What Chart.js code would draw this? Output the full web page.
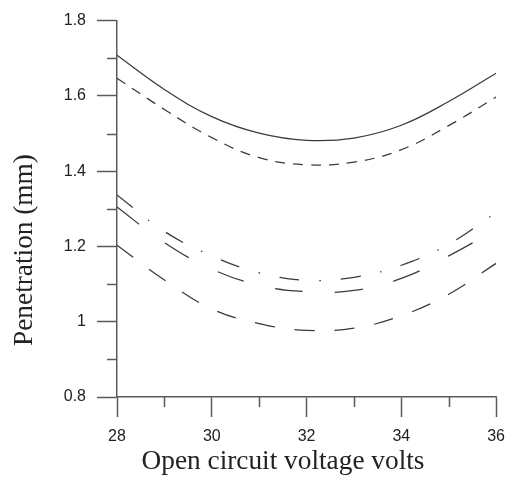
<!DOCTYPE html>
<html>
<head>
<meta charset="utf-8">
<script src="https://cdn.jsdelivr.net/npm/chart.js@4/dist/chart.umd.min.js"></script>
<style>
  html, body { margin: 0; padding: 0; background: #fff; }
  #wrap { width: 515px; height: 481px; }
</style>
</head>
<body>
<div id="wrap"><canvas id="c" width="515" height="481"></canvas></div>
<script>
// Open circuit voltage (V) and penetration (mm) for five welding conditions
const voltages = [28, 29, 30, 31, 32, 33, 34, 35, 36];
const seriesSolid     = [1.708, 1.617, 1.545, 1.501, 1.482, 1.488, 1.522, 1.585, 1.660];
const seriesShortDash = [1.647, 1.564, 1.489, 1.436, 1.417, 1.424, 1.457, 1.521, 1.597];
const seriesDashDot   = [1.337, 1.240, 1.175, 1.130, 1.110, 1.118, 1.150, 1.206, 1.290];
const seriesLongDash  = [1.305, 1.210, 1.140, 1.097, 1.080, 1.083, 1.115, 1.175, 1.245];
const seriesWideDash  = [1.203, 1.111, 1.034, 0.995, 0.977, 0.983, 1.016, 1.073, 1.155];

// Axis ticks
const xTicks = [28, 30, 32, 34, 36];
const xMinorTicks = [29, 31, 33, 35];
const yTicks = [0.8, 1, 1.2, 1.4, 1.6, 1.8];
const yMinorTicks = [0.9, 1.1, 1.3, 1.5, 1.7];

const xTitle = 'Open circuit voltage volts';
const yTitle = 'Penetration (mm)';

const LINE_COLOR = '#3a3a3a';
const AXIS_COLOR = '#5a5a5a';
const TEXT_COLOR = '#222';

function toPoints(values) {
  return voltages.map((v, i) => ({ x: v, y: values[i] }));
}

function lineSet(values, dash) {
  return {
    data: toPoints(values),
    borderColor: LINE_COLOR,
    borderWidth: 1.25,
    borderDash: dash,
    pointRadius: 0,
    tension: 0.4,
    fill: false
  };
}

// Short minor ticks and the two axis titles
const axisExtras = {
  id: 'axisExtras',
  afterDraw(chart) {
    const ctx = chart.ctx;
    const xs = chart.scales.x, ys = chart.scales.y;
    const area = chart.chartArea;
    ctx.save();
    ctx.strokeStyle = AXIS_COLOR;
    ctx.lineWidth = 1.5;
    ctx.beginPath();
    xMinorTicks.forEach(v => {
      const px = Math.round(xs.getPixelForValue(v)) + 0.5;
      ctx.moveTo(px, area.bottom);
      ctx.lineTo(px, area.bottom + 10);
    });
    yMinorTicks.forEach(v => {
      const py = Math.round(ys.getPixelForValue(v)) + 0.5;
      ctx.moveTo(area.left, py);
      ctx.lineTo(area.left - 10, py);
    });
    ctx.stroke();

    // Serif titles, sized so the x title spans its width
    ctx.font = '100px "Liberation Serif"';
    const size = 100 * 283 / ctx.measureText(xTitle).width;
    ctx.font = size.toFixed(2) + 'px "Liberation Serif"';
    ctx.fillStyle = TEXT_COLOR;
    ctx.textAlign = 'center';
    ctx.textBaseline = 'middle';
    ctx.fillText(xTitle, area.left + 166, 462);
    ctx.translate(25, 250);
    ctx.rotate(-Math.PI / 2);
    ctx.fillText(yTitle, 0, 0);
    ctx.restore();
  }
};

const tickFont = { family: '"Liberation Sans", Arial, sans-serif', size: 16 };

new Chart(document.getElementById('c'), {
  type: 'line',
  data: {
    datasets: [
      lineSet(seriesSolid, []),
      lineSet(seriesShortDash, [10, 8]),
      lineSet(seriesDashDot, [20, 20, 1.5, 20]),
      lineSet(seriesLongDash, [28, 32]),
      lineSet(seriesWideDash, [20, 20])
    ]
  },
  options: {
    responsive: false,
    animation: false,
    layout: { padding: { left: 0, top: 15, right: 14, bottom: 0 } },
    plugins: { legend: { display: false }, tooltip: { enabled: false } },
    scales: {
      x: {
        type: 'linear',
        min: 28,
        max: 36,
        afterBuildTicks: s => { s.ticks = xTicks.map(v => ({ value: v })); },
        afterFit: s => { s.height = 84; },
        ticks: { font: tickFont, color: TEXT_COLOR, padding: 10, maxRotation: 0 },
        grid: { drawOnChartArea: false, drawTicks: true, tickLength: 20, tickColor: AXIS_COLOR, tickWidth: 1.5 },
        border: { display: true, color: AXIS_COLOR, width: 1.5 }
      },
      y: {
        min: 0.8,
        max: 1.8,
        afterBuildTicks: s => { s.ticks = yTicks.map(v => ({ value: v })); },
        afterFit: s => { s.width = 117; },
        ticks: { font: tickFont, color: TEXT_COLOR, padding: 11, callback: v => String(v) },
        grid: { drawOnChartArea: false, drawTicks: true, tickLength: 20, tickColor: AXIS_COLOR, tickWidth: 1.5 },
        border: { display: true, color: AXIS_COLOR, width: 1.5 }
      }
    }
  },
  plugins: [axisExtras]
});
</script>
</body>
</html>
